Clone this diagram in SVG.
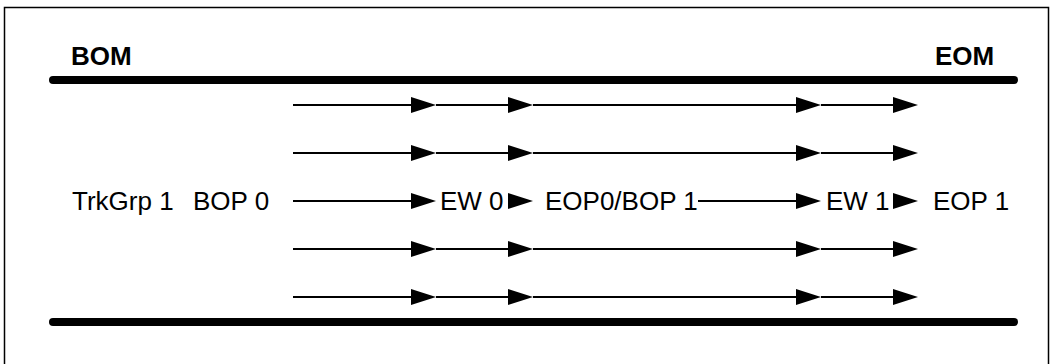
<svg xmlns="http://www.w3.org/2000/svg" xmlns:xlink="http://www.w3.org/1999/xlink" width="1051" height="364" viewBox="0 0 1051 364">
<style>
.lbl{font-family:"Liberation Sans",Arial,sans-serif;font-size:26px;fill:#000}
.bold{font-weight:bold}
.thick{stroke:#000;stroke-width:8;stroke-linecap:round;fill:none}
.thin{stroke:#000;stroke-width:2;fill:none}
</style>
<defs>
<path id="ah" d="M0,-8 L25,0 L0,8 Z" fill="#000"/>
</defs>
<rect x="4.5" y="7.5" width="1044" height="400" fill="#fff" stroke="#000" stroke-width="1.5"/>
<g id="bom"><text class="lbl bold" x="71" y="65">BOM</text></g>
<g id="eom"><text class="lbl bold" x="935" y="65">EOM</text></g>
<g id="top-line"><line class="thick" x1="53" y1="80" x2="1014" y2="80"/></g>
<g id="bottom-line"><line class="thick" x1="53" y1="322" x2="1014" y2="322"/></g>
<g id="trkgrp"><text class="lbl" x="72" y="210" xml:space="preserve">TrkGrp 1<tspan x="193">BOP 0</tspan></text></g>
<g id="ew0"><text class="lbl" x="440" y="210">EW 0</text></g>
<g id="eop0bop1"><text class="lbl" x="545" y="210">EOP0/BOP 1</text></g>
<g id="ew1"><text class="lbl" x="826" y="210">EW 1</text></g>
<g id="eop1"><text class="lbl" x="933" y="210">EOP 1</text></g>
<g id="connectors">
<g id="row1">
<path class="thin" d="M293,105 H412 M436,105 H508 M533,105 H797 M821,105 H893"/>
<use xlink:href="#ah" x="411" y="105"/><use xlink:href="#ah" x="508" y="105"/><use xlink:href="#ah" x="796" y="105"/><use xlink:href="#ah" x="893" y="105"/>
</g>
<g id="row2">
<path class="thin" d="M293,153 H412 M436,153 H508 M533,153 H797 M821,153 H893"/>
<use xlink:href="#ah" x="411" y="153"/><use xlink:href="#ah" x="508" y="153"/><use xlink:href="#ah" x="796" y="153"/><use xlink:href="#ah" x="893" y="153"/>
</g>
<g id="row3">
<path class="thin" d="M293,201 H412 M698,201 H797"/>
<use xlink:href="#ah" x="411" y="201"/><use xlink:href="#ah" x="508" y="201"/><use xlink:href="#ah" x="796" y="201"/><use xlink:href="#ah" x="893" y="201"/>
</g>
<g id="row4">
<path class="thin" d="M293,249 H412 M436,249 H508 M533,249 H797 M821,249 H893"/>
<use xlink:href="#ah" x="411" y="249"/><use xlink:href="#ah" x="508" y="249"/><use xlink:href="#ah" x="796" y="249"/><use xlink:href="#ah" x="893" y="249"/>
</g>
<g id="row5">
<path class="thin" d="M293,297 H412 M436,297 H508 M533,297 H797 M821,297 H893"/>
<use xlink:href="#ah" x="411" y="297"/><use xlink:href="#ah" x="508" y="297"/><use xlink:href="#ah" x="796" y="297"/><use xlink:href="#ah" x="893" y="297"/>
</g>
</g>
</svg>
